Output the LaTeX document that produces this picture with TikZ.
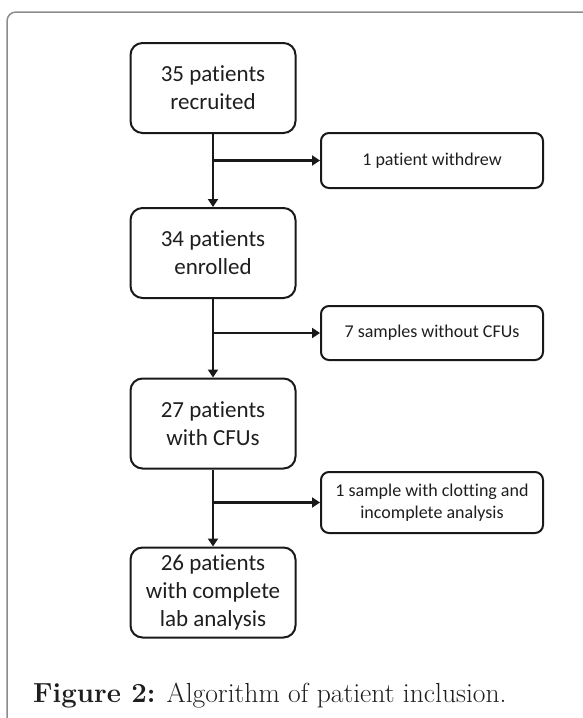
\documentclass[tikz,border=0pt]{standalone}
\usepackage{fontspec}
\newfontfamily\boxfont[Ligatures=CommonOff]{Carlito}
\usetikzlibrary{arrows.meta,positioning,calc}
\definecolor{framegray}{HTML}{8C8C8C}
\definecolor{inktext}{HTML}{1E1E1E}

\begin{document}
\begin{tikzpicture}[x=1pt, y=-1pt, inner sep=0pt,
    mainbox/.style={draw=black!90, line width=2pt, rounded corners=12pt, minimum width=165pt, minimum height=90pt, align=center, text=inktext, font=\boxfont\fontsize{23}{27.7}\selectfont},
    sidebox/.style={draw=black!90, line width=2pt, rounded corners=8pt, minimum width=222pt, align=center, text=inktext, font=\boxfont\fontsize{18}{21.7}\selectfont},
    flow/.style={line width=2.3pt, draw=black!90, -{Triangle[length=8pt,width=10pt]}}]
      \useasboundingbox (0, 0) rectangle (583, 718);
      \draw[framegray, line width=1.5pt, rounded corners=9pt] (7, 720) -- (7, 12) -- (585, 12);

      \node[mainbox] (recruited) at (213, 88) {35 patients\\recruited};
      \node[mainbox] (enrolled) at (213, 253) {34 patients\\enrolled};
      \node[mainbox] (withcfu) at (213, 423.5) {27 patients\\with CFUs};
      \node[mainbox] (complete) at (213, 592.5) {26 patients\\with complete\\lab analysis};

      \node[sidebox, minimum height=55pt] (withdrew) at (432, 160.5) {1 patient withdrew};
      \node[sidebox, minimum height=54pt] (nocfu) at (432, 333) {7 samples without CFUs};
      \node[sidebox, minimum height=61pt] (clotting) at (432, 502.5) {1 sample with clotting and\\incomplete analysis};

      \draw[flow] (recruited) -- (enrolled);
      \draw[flow] (enrolled) -- (withcfu);
      \draw[flow] (withcfu) -- (complete);
      \draw[flow] (recruited.south |- withdrew.west) -- (withdrew);
      \draw[flow] (enrolled.south |- nocfu.west) -- (nocfu);
      \draw[flow] (withcfu.south |- clotting.west) -- (clotting);

      \node[anchor=base west, text=inktext, font=\fontsize{27.6}{32}\selectfont] (caption) at (33, 702) {\textbf{Figure 2:} Algorithm of patient inclusion.};
\end{tikzpicture}
\end{document}
